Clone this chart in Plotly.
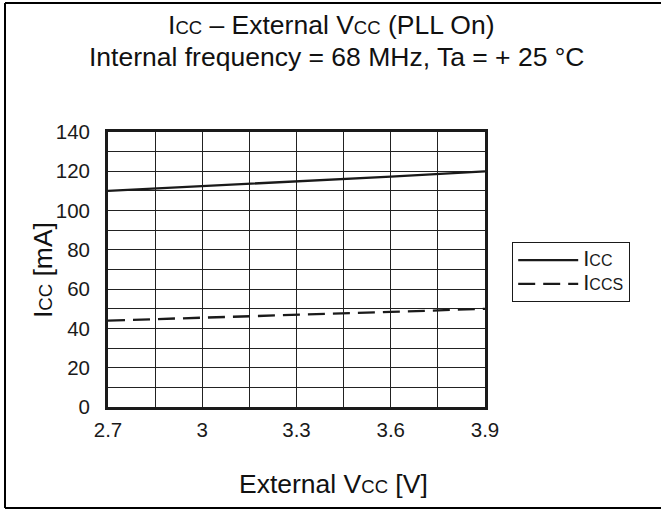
import plotly.graph_objects as go

# ---- data ----
vcc = [2.7, 3.0, 3.3, 3.6, 3.9]
icc = [110, 112.4, 114.8, 117.3, 120]
iccs = [44, 45.4, 46.9, 48.4, 50]
x_ticks = [2.7, 3.0, 3.3, 3.6, 3.9]
x_tick_labels = ["2.7", "3", "3.3", "3.6", "3.9"]
y_ticks = [0, 20, 40, 60, 80, 100, 120, 140]

W, H = 661, 510
L, R, T, B = 108, 485, 132, 407  # plot area in px
FONT = "Liberation Sans, Arial, Helvetica, sans-serif"
INK = "#1a1a1a"


def px(x):
    return (x - L) / (R - L)


def py(y):
    return (B - y) / (B - T)


def sp(txt, size):
    return f"<span style='font-size:{size}px'>{txt}</span>"


fig = go.Figure()
fig.add_trace(go.Scatter(x=vcc, y=icc, mode="lines",
                         name=sp("I", 22) + sp("CC", 16),
                         line=dict(color=INK, width=2.3)))
fig.add_trace(go.Scatter(x=vcc, y=iccs, mode="lines",
                         name=sp("I", 22) + sp("CCS", 16),
                         line=dict(color=INK, width=2.3, dash="17px,8px")))

grid = dict(showgrid=True, gridcolor="#222", gridwidth=1.2)
fig.update_xaxes(range=[2.7, 3.9], tickvals=x_ticks, ticktext=x_tick_labels,
                 **grid, minor=dict(dtick=0.15, tick0=2.7, showgrid=True, gridcolor="#222", gridwidth=1.2),
                 showline=True, linecolor=INK, linewidth=2.8, mirror=True,
                 ticks="", ticklabelstandoff=2, zeroline=False,
                 tickfont=dict(family=FONT, size=20.5, color=INK))
fig.update_yaxes(range=[0, 140], tickvals=y_ticks,
                 **grid, minor=dict(dtick=10, tick0=0, showgrid=True, gridcolor="#222", gridwidth=1.2),
                 showline=True, linecolor=INK, linewidth=2.8, mirror=True,
                 ticks="", ticklabelstandoff=11, zeroline=False,
                 tickfont=dict(family=FONT, size=20.5, color=INK))

TS = 26.5
SS = 18.5
common = dict(xref="paper", yref="paper", showarrow=False,
              xanchor="center", yanchor="middle")
ann = []
ann.append(dict(x=px(331), y=py(25), **common,
                text="I" + sp("CC", SS) + " – External V" + sp("CC", SS) + " (PLL On)",
                font=dict(family=FONT, size=TS, color="#111")))
ann.append(dict(x=px(336), y=py(57), **common,
                text="Internal frequency = 68 MHz, Ta = + 25 °C",
                font=dict(family=FONT, size=TS, color="#111")))
ann.append(dict(x=px(333), y=py(484), **common,
                text="External V" + sp("CC", SS) + " [V]",
                font=dict(family=FONT, size=TS, color="#111")))
ann.append(dict(x=px(43), y=py(270), **common,
                text="I" + sp("CC", SS) + " [mA]", textangle=-90,
                font=dict(family=FONT, size=TS, color="#111")))

frame = dict(type="line", xref="paper", yref="paper", line=dict(color="#000", width=2), layer="below")
shapes = [
    dict(frame, x0=px(5), x1=px(5), y0=py(508), y1=py(3)),
    dict(frame, x0=px(5), x1=px(661), y0=py(3), y1=py(3)),
    dict(frame, x0=px(5), x1=px(661), y0=py(508), y1=py(508)),
]

fig.update_layout(
    width=W, height=H,
    margin=dict(l=L, r=W - R, t=T, b=H - B, pad=0),
    paper_bgcolor="white", plot_bgcolor="white",
    showlegend=True,
    legend=dict(x=px(512), y=py(242), xanchor="left", yanchor="top",
                bordercolor=INK, borderwidth=1.2, bgcolor="white",
                font=dict(family=FONT, size=16, color=INK),
                itemwidth=60, tracegroupgap=0),
    annotations=ann, shapes=shapes,
)

fig.write_html("out.html", config={"displayModeBar": False},
               post_script="document.body.style.margin='0';")
